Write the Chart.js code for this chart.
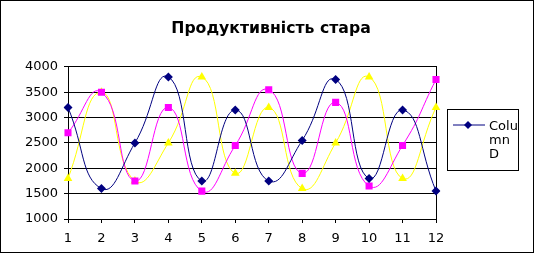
<!DOCTYPE html>
<html>
<head>
<meta charset="utf-8">
<script src="https://cdn.jsdelivr.net/npm/chart.js@4"></script>
<style>
  body { margin: 0; background: #fff; }
  #wrap {
    position: relative;
    width: 534px;
    height: 253px;
    box-sizing: border-box;
    border: 1px solid #000;
    font-family: 'DejaVu Sans', sans-serif;
  }
  #chart { display: block; }
  #legend {
    position: absolute;
    left: 446px;
    top: 108px;
    width: 72px;
    height: 62px;
    box-sizing: border-box;
    border: 1px solid #000;
    font-size: 13px;
    line-height: 14px;
  }
  #legend svg { position: absolute; left: 4px; top: 9px; }
  #legend span { position: absolute; left: 41px; top: 9px; }
</style>
</head>
<body>
<div id="wrap">
  <canvas id="chart" width="532" height="251"></canvas>
  <div id="legend">
    <svg width="34" height="12"><line x1="1" y1="6" x2="33" y2="6" stroke="#000080" stroke-width="1"/><polygon points="16,2 20,6 16,10 12,6" fill="#000080"/></svg>
    <span>Colu<br>mn<br>D</span>
  </div>
</div>
<script>
// chart data
const titleText = 'Продуктивність стара';
const months = ['1', '2', '3', '4', '5', '6', '7', '8', '9', '10', '11', '12'];
const columnD = [3200, 1600, 2500, 3800, 1750, 3150, 1750, 2550, 3750, 1800, 3150, 1550];
const columnC = [2700, 3500, 1750, 3200, 1550, 2450, 3550, 1900, 3300, 1650, 2450, 3750];
const columnB = [1800, 3500, 1750, 2500, 3800, 1900, 3200, 1600, 2500, 3800, 1800, 3200];
const yTicks = [1000, 1500, 2000, 2500, 3000, 3500, 4000];

const ctx = document.getElementById('chart').getContext('2d');

function series(label, data, color, style, radius) {
  return {
    label: label,
    data: data,
    borderColor: color,
    backgroundColor: color,
    borderWidth: 1,
    pointStyle: style,
    pointRadius: radius,
    pointBorderWidth: 0,
    pointHoverRadius: radius,
    tension: 0.5,
    fill: false,
  };
}

new Chart(ctx, {
  type: 'line',
  data: {
    labels: months,
    datasets: [
      series('Column D', columnD, '#000080', 'rectRot', 4.5),
      series('Column C', columnC, '#ff00ff', 'rect', 5),
      series('Column B', columnB, '#ffff00', 'triangle', 5),
    ],
  },
  options: {
    responsive: false,
    animation: false,
    layout: { padding: { left: 8, right: 0, top: 0, bottom: 0 } },
    plugins: {
      legend: { display: false },
      tooltip: { enabled: false },
      title: {
        display: true,
        text: titleText,
        color: '#000',
        font: { family: 'DejaVu Sans', size: 15.7, weight: 'bold' },
        padding: { top: 19, bottom: 28 },
      },
    },
    scales: {
      x: {
        offset: false,
        border: { color: '#000' },
        grid: { color: 'rgba(0,0,0,0)', tickColor: '#000', tickLength: 4 },
        ticks: {
          color: '#000',
          font: { family: 'DejaVu Sans', size: 13 },
          padding: 8,
          maxRotation: 0,
          autoSkip: false,
        },
        afterFit: (scale) => { scale.height = 33; },
      },
      y: {
        min: 1000,
        max: 4000,
        border: { color: '#000' },
        grid: { color: '#000', tickColor: '#000', tickLength: 4 },
        afterBuildTicks: (scale) => { scale.ticks = yTicks.map(v => ({ value: v })); },
        ticks: {
          color: '#000',
          font: { family: 'DejaVu Sans', size: 13 },
          padding: 6,
          callback: (v) => String(v),
        },
        afterFit: (scale) => { scale.width = 59; },
      },
      // right-hand frame line of the plot area, and room for the legend box
      yRight: {
        position: 'right',
        min: 1000,
        max: 4000,
        border: { color: '#000' },
        grid: { display: false },
        ticks: { display: false },
        afterFit: (scale) => { scale.width = 97; },
      },
    },
  },
});
</script>
</body>
</html>
